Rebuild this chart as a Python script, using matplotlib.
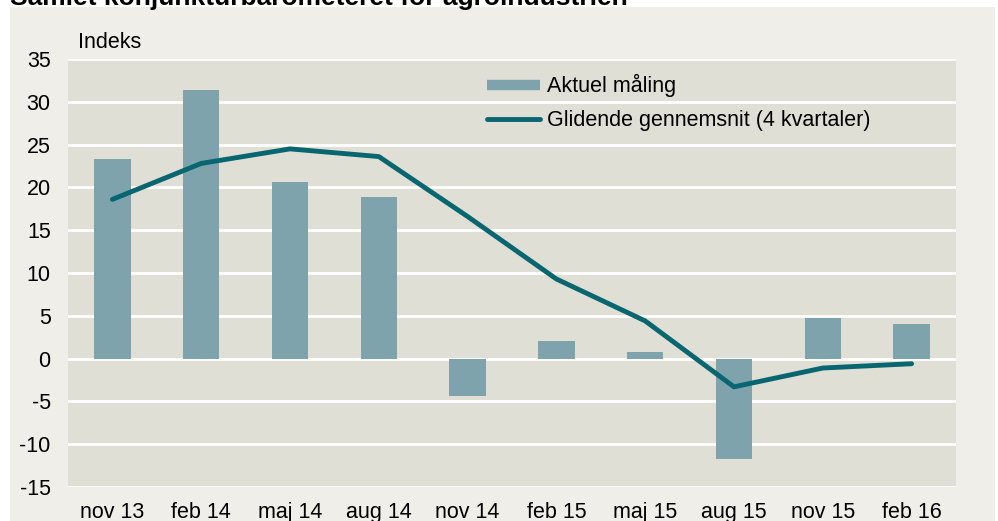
import matplotlib
matplotlib.use("Agg")
import matplotlib.pyplot as plt
from matplotlib.patches import Rectangle
from matplotlib.lines import Line2D
import numpy as np

categories = ["nov 13", "feb 14", "maj 14", "aug 14", "nov 14", "feb 15", "maj 15", "aug 15", "nov 15", "feb 16"]
aktuel = [23.3, 31.4, 20.6, 18.9, -4.4, 2.1, 0.8, -11.7, 4.7, 4.0]
glidende = [18.6, 22.8, 24.5, 23.6, 16.6, 9.3, 4.4, -3.3, -1.1, -0.6]
yticks = [-15, -10, -5, 0, 5, 10, 15, 20, 25, 30, 35]

BAR = "#7FA3AD"
LINE = "#07666F"
PLOTBG = "#E0DFD5"
OUTBG = "#EFEEE8"
FS = 15.5

plt.rcParams['font.family'] = ['Liberation Sans', 'DejaVu Sans']

W, H = 998, 521
fig = plt.figure(figsize=(W / 100, H / 100), dpi=100)
fig.patch.set_facecolor("white")
fig.patches.append(Rectangle((10 / W, 0), (995 - 10) / W, (H - 7) / H, transform=fig.transFigure,
                             facecolor=OUTBG, edgecolor="none", zorder=-5))

ax = fig.add_axes([68 / W, (H - 487) / H, (956 - 68) / W, (487 - 59) / H])
ax.set_zorder(1)
ax.set_facecolor(PLOTBG)
x = np.arange(len(categories))
ax.bar(x, aktuel, width=0.41, color=BAR, zorder=2)
ax.plot(x, glidende, color=LINE, lw=3.5, solid_capstyle="round", zorder=3)
ax.set_xlim(-0.5, len(categories) - 0.5)
ax.set_ylim(-15, 35)
ax.set_yticks(yticks)
ax.set_yticklabels([str(v) for v in yticks])
ax.set_xticks(x)
ax.set_xticklabels(categories)
ax.grid(axis="y", color="white", lw=2, zorder=1)
ax.set_axisbelow(True)
for s in ax.spines.values():
    s.set_visible(False)
ax.tick_params(axis="both", length=0, labelsize=FS, colors="black")
ax.tick_params(axis="y", pad=12.5)
ax.tick_params(axis="x", pad=11)

fig.text(78 / W, (H - 42) / H, "Indeks", fontsize=FS, ha="left", va="center")

handles = [Line2D([], [], color=BAR, lw=7.5, solid_capstyle="butt"),
           Line2D([], [], color=LINE, lw=3.5, solid_capstyle="round")]
labels = ["Aktuel måling", "Glidende gennemsnit (4 kvartaler)"]
leg = ax.legend(handles, labels, loc="upper left",
                bbox_to_anchor=((487 - 68) / 888, (487 - 74) / 428),
                frameon=False, fontsize=FS, handlelength=2.45, handletextpad=0.33,
                labelspacing=0.62, borderpad=0, borderaxespad=0)

fig.text(10 / W, (H - 5) / H, "Samlet konjunkturbarometeret for agroindustrien",
         fontsize=19, fontweight="bold", ha="left", va="baseline")

fig.savefig("out.png", dpi=100, facecolor=fig.get_facecolor())
